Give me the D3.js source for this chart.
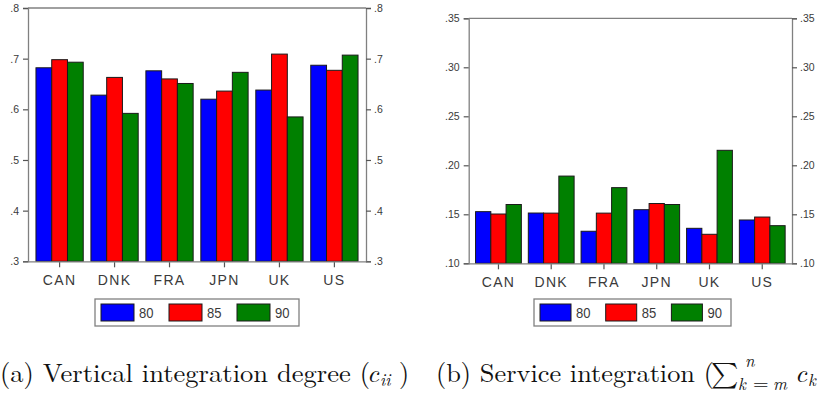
<!DOCTYPE html>
<html>
<head>
<meta charset="utf-8">
<script src="https://cdn.jsdelivr.net/npm/d3@7"></script>
<style>
  html, body { margin: 0; padding: 0; background: #fff; overflow: hidden; }
  svg { display: block; }
</style>
</head>
<body>
<svg id="fig" width="822" height="397"></svg>
<script>
// Countries and years
const countries = ["CAN", "DNK", "FRA", "JPN", "UK", "US"];
const years = ["80", "85", "90"];
const yearColors = ["#0000ff", "#ff0000", "#008000"];

// Panel (a): vertical integration degree, per year
const vertical80 = [0.682, 0.628, 0.676, 0.620, 0.638, 0.687];
const vertical85 = [0.698, 0.663, 0.660, 0.636, 0.709, 0.677];
const vertical90 = [0.693, 0.592, 0.651, 0.673, 0.585, 0.707];
const verticalTicks = [0.3, 0.4, 0.5, 0.6, 0.7, 0.8];

// Panel (b): service integration, per year
const service80 = [0.1527, 0.1513, 0.1327, 0.1547, 0.1357, 0.1442];
const service85 = [0.1503, 0.1512, 0.1512, 0.1610, 0.1296, 0.1472];
const service90 = [0.1600, 0.1890, 0.1772, 0.1600, 0.2153, 0.1384];
const serviceTicks = [0.10, 0.15, 0.20, 0.25, 0.30, 0.35];

const svg = d3.select("#fig");
const frameColor = "#808080";
const textColor = "#3a3a3a";
const sansFont = "'Liberation Sans', Arial, sans-serif";

function drawPanel(opt) {
  const g = svg.append("g");
  const rows = countries.map((c, i) => ({
    country: c,
    values: opt.series.map((s, j) => ({ year: years[j], value: s[i] }))
  }));

  const x = d3.scaleBand().domain(countries)
    .range([opt.left, opt.right]).paddingInner(opt.padIn).paddingOuter(opt.padOut);
  const xi = d3.scaleBand().domain(years).range([0, x.bandwidth()]).padding(0);
  const y = d3.scaleLinear().domain(opt.domain).range([opt.bottom, opt.top]);

  // bars
  const grp = g.selectAll("g.grp").data(rows).join("g")
    .attr("class", "grp")
    .attr("transform", d => `translate(${x(d.country)},0)`);
  grp.selectAll("rect").data(d => d.values).join("rect")
    .attr("x", d => xi(d.year))
    .attr("y", d => y(d.value))
    .attr("width", xi.bandwidth())
    .attr("height", d => y(opt.domain[0]) - y(d.value))
    .attr("fill", (d, j) => yearColors[j])
    .attr("stroke", "#1a1a1a")
    .attr("stroke-width", 1);

  // left and right value axes
  const leftAxis = d3.axisLeft(y).tickValues(opt.ticks).tickFormat(opt.fmt).tickSize(5).tickPadding(4);
  const rightAxis = d3.axisRight(y).tickValues(opt.ticks).tickFormat(opt.fmt).tickSize(5).tickPadding(3);
  const la = g.append("g").attr("transform", `translate(${opt.left},0)`).call(leftAxis);
  const ra = g.append("g").attr("transform", `translate(${opt.right},0)`).call(rightAxis);

  // bottom category axis
  const bottomAxis = d3.axisBottom(x).tickSize(5).tickPadding(9).tickSizeOuter(0);
  const ba = g.append("g").attr("transform", `translate(0,${opt.bottom})`).call(bottomAxis);

  // top border
  g.append("line")
    .attr("x1", opt.left).attr("x2", opt.right)
    .attr("y1", opt.top).attr("y2", opt.top)
    .attr("stroke", frameColor).attr("stroke-width", 1.3);

  [la, ra, ba].forEach(a => {
    a.selectAll("path.domain").attr("stroke", frameColor).attr("stroke-width", 1.3);
    a.selectAll(".tick line").attr("stroke", "#555").attr("stroke-width", 1.2);
    a.selectAll("text").attr("fill", textColor).attr("font-family", sansFont);
  });
  [la, ra].forEach(a => a.selectAll("text").attr("font-size", 10.5));
  ba.selectAll("text").attr("font-size", 14).attr("letter-spacing", 1.3);
  ba.selectAll(".tick line").attr("transform", "translate(0,1)");

  // legend
  const lg = g.append("g").attr("transform", `translate(${opt.legendX},${opt.legendY})`);
  lg.append("rect")
    .attr("x", 0).attr("y", 0).attr("width", opt.legendW).attr("height", 27)
    .attr("fill", "#fff").attr("stroke", frameColor).attr("stroke-width", 1.3);
  const item = lg.selectAll("g.item").data(years).join("g")
    .attr("class", "item")
    .attr("transform", (d, j) => `translate(${6 + j * opt.legendStep},5)`);
  item.append("rect")
    .attr("width", opt.swatchW).attr("height", 17)
    .attr("fill", (d, j) => yearColors[j])
    .attr("stroke", "#1a1a1a").attr("stroke-width", 1);
  item.append("text")
    .attr("x", opt.swatchW + 5).attr("y", 14.5)
    .attr("font-family", sansFont).attr("font-size", 14.5)
    .attr("fill", textColor)
    .attr("transform", `scale(0.9,1)`)
    .attr("transform-origin", `${opt.swatchW + 5}px 0px`)
    .text(d => d);
}

const fmt1 = v => d3.format(".1f")(v).replace(/^0/, "");
const fmt2 = v => d3.format(".2f")(v).replace(/^0/, "");

drawPanel({
  series: [vertical80, vertical85, vertical90],
  domain: [0.3, 0.8], ticks: verticalTicks, fmt: fmt1,
  left: 28, right: 366, top: 8, bottom: 261.3,
  padIn: 0.14, padOut: 0.145,
  legendX: 95, legendY: 299, legendW: 204, legendStep: 68, swatchW: 33
});

drawPanel({
  series: [service80, service85, service90],
  domain: [0.10, 0.35], ticks: serviceTicks, fmt: fmt2,
  left: 468.7, right: 792, top: 18.3, bottom: 263.3,
  padIn: 0.132, padOut: 0.13,
  legendX: 534, legendY: 299, legendW: 197, legendStep: 65.7, swatchW: 31
});

// panel captions, set piece by piece (main text, symbols, sub/superscripts)
const serif = "'Latin Modern Roman', 'CMU Serif', 'DejaVu Serif', 'Liberation Serif', serif";
const mathFont = "'Latin Modern Math', 'Latin Modern Roman', 'CMU Serif', 'DejaVu Serif', serif";
function cap(str, x, y, size, opts = {}) {
  const t = svg.append("text")
    .attr("x", x).attr("y", y)
    .attr("font-family", opts.math ? mathFont : serif).attr("font-size", size)
    .attr("fill", "#111")
    .text(str);
  if (opts.italic) t.attr("font-style", "italic");
  if (opts.len) t.attr("textLength", opts.len).attr("lengthAdjust", "spacingAndGlyphs");
  return t;
}

const base = 381.5;
cap("(a) Vertical integration degree (", 0, base, 26, { len: 370 });
cap("c", 367, base, 26, { italic: true });
cap("ii", 380, base + 4.5, 17, { italic: true });
cap(")", 399, base, 26);

cap("(b) Service integration (", 436, base, 26, { len: 278 });
cap("\u2211", 711, base, 26, { math: true });
cap("n", 745, 367, 17, { italic: true });
cap("k", 738, 390, 17, { italic: true });
cap("=", 753, 390, 20);
cap("m", 773, 390, 17, { italic: true });
cap("c", 795, base, 26, { italic: true });
cap("k", 808, base + 4.5, 17, { italic: true });
</script>
</body>
</html>
